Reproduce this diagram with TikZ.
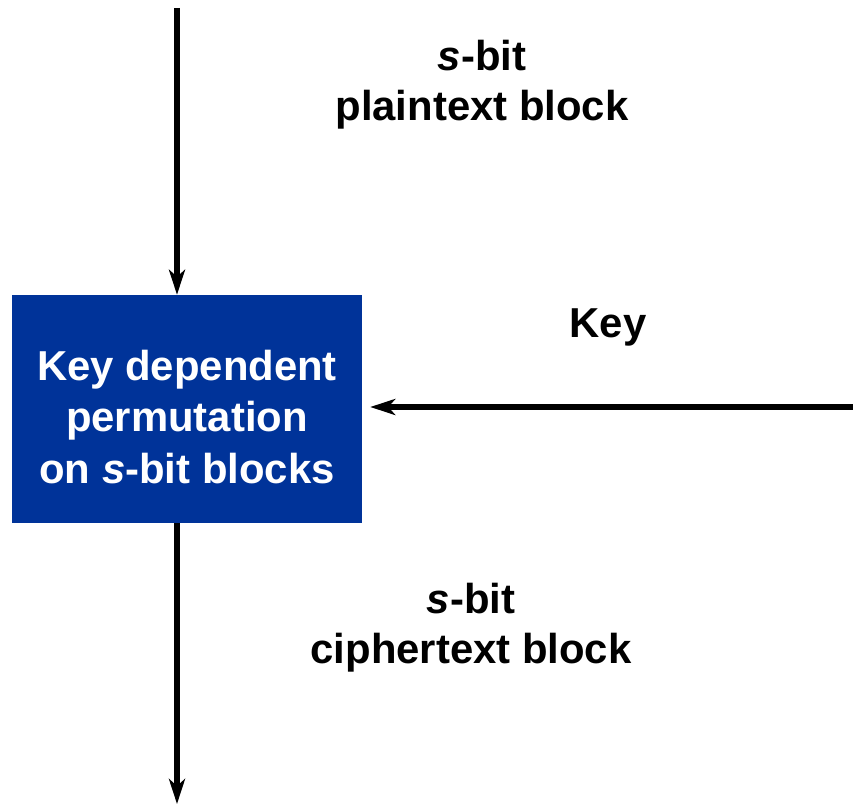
\documentclass[tikz,border=0pt]{standalone}
\usepackage{fontspec}
\setmainfont{Liberation Sans}
\usetikzlibrary{arrows.meta}
\definecolor{boxblue}{RGB}{0,51,153}
\begin{document}
\begin{tikzpicture}[x=1bp,y=-1bp,
  flow/.style={line width=5.2bp,-{Stealth[length=25bp,width=16bp,inset=7bp]}},
  lbl/.style={font=\fontsize{42}{50}\selectfont\bfseries,align=center,anchor=base},
  blk/.style={fill=boxblue,minimum width=350bp,minimum height=228bp,inner sep=0pt},
  blktext/.style={text=white,font=\fontsize{42}{52}\selectfont\bfseries,align=center}]
  \useasboundingbox (0,0) rectangle (853,804);
  % the blue block and its three-line caption
  \node[blk] (perm) at (187,409) {};
  \node[blktext] (permtext) at ([yshift=-8bp]perm.center) {Key dependent\\permutation\\on \textit{s}-bit blocks};
  \coordinate (in) at (177,8);
  \coordinate (out) at (177,804);
  \coordinate (key) at (853,407);
  \draw[flow] (in) -- (in |- perm.north);
  \draw[flow] (perm.south -| out) -- (out);
  \draw[flow] (key) -- ([xshift=8bp]perm.east |- key);
  \node[lbl] (pt) at (482,120) {\textit{s}-bit\\plaintext block};
  \node[lbl] (k) at (608,337) {Key};
  \node[lbl] (ct) at (471,663) {\textit{s}-bit\\ciphertext block};
\end{tikzpicture}
\end{document}
